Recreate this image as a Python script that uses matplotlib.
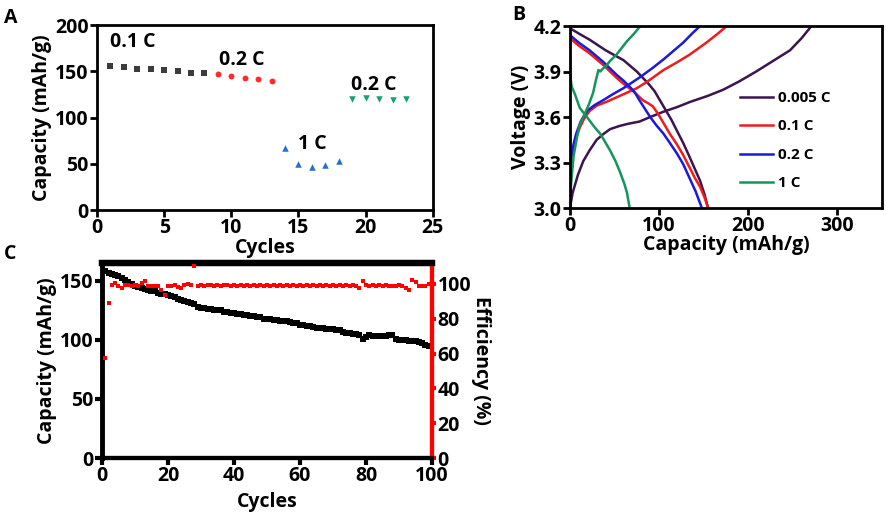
import matplotlib
matplotlib.use("Agg")
import matplotlib.pyplot as plt
from matplotlib.ticker import FormatStrFormatter

plt.rcParams['font.family'] = ['Open Sans', 'DejaVu Sans']
plt.rcParams['font.weight'] = 'bold'

# ---------------- Panel A data ----------------
a_cyc_01 = [1, 2, 3, 4, 5, 6, 7, 8]
a_cap_01 = [156, 155, 153, 152, 151, 150, 148, 148]
a_cyc_02 = [9, 10, 11, 12, 13]
a_cap_02 = [147, 145, 143, 142, 140]
a_cyc_1 = [14, 15, 16, 17, 18]
a_cap_1 = [67, 50, 46, 49, 53]
a_cyc_02b = [19, 20, 21, 22, 23]
a_cap_02b = [120, 121, 119.5, 119, 119.5]

# ---------------- Panel B data ----------------
b_0005_chg_x = [0, 3, 9, 15, 22, 30, 38, 45, 55, 65, 78, 90, 105, 120, 135, 155, 172, 190, 209, 228, 247, 260, 271]
b_0005_chg_v = [3.0, 3.1, 3.22, 3.31, 3.38, 3.45, 3.49, 3.52, 3.54, 3.555, 3.57, 3.60, 3.635, 3.665, 3.70, 3.74, 3.78, 3.835, 3.90, 3.97, 4.04, 4.12, 4.2]
b_0005_dis_x = [0, 10, 22, 40, 60, 75, 88, 95, 99, 104, 108, 114, 120, 127, 134, 140, 146, 151, 155]
b_0005_dis_v = [4.185, 4.15, 4.11, 4.04, 3.975, 3.9, 3.82, 3.77, 3.73, 3.68, 3.64, 3.58, 3.51, 3.43, 3.34, 3.26, 3.18, 3.09, 3.0]

b_01_chg_x = [0, 2, 6, 11, 16, 22, 30, 41, 60, 75, 86, 105, 120, 134, 153, 166, 176]
b_01_chg_v = [3.2, 3.34, 3.45, 3.53, 3.59, 3.64, 3.675, 3.70, 3.75, 3.79, 3.83, 3.91, 3.96, 4.01, 4.09, 4.15, 4.2]
b_01_dis_x = [0, 10, 22, 38, 52, 62, 71, 82, 88, 93, 99, 105, 112, 120, 127, 134, 140, 146, 151, 155]
b_01_dis_v = [4.12, 4.07, 4.02, 3.94, 3.86, 3.81, 3.77, 3.71, 3.69, 3.67, 3.62, 3.56, 3.49, 3.42, 3.35, 3.27, 3.20, 3.14, 3.07, 3.0]

b_02_chg_x = [0, 1, 4, 7, 12, 19, 28, 37, 48, 60, 78, 92, 105, 117, 127, 137, 146]
b_02_chg_v = [3.2, 3.31, 3.42, 3.49, 3.57, 3.64, 3.68, 3.71, 3.75, 3.79, 3.86, 3.92, 3.98, 4.04, 4.09, 4.15, 4.2]
b_02_dis_x = [0, 10, 22, 38, 52, 60, 67, 73, 78, 84, 90, 97, 105, 112, 120, 127, 134, 141, 148]
b_02_dis_v = [4.14, 4.09, 4.04, 3.96, 3.88, 3.84, 3.80, 3.76, 3.71, 3.655, 3.60, 3.545, 3.49, 3.43, 3.36, 3.29, 3.20, 3.11, 3.0]

b_1_chg_x = [0, 1, 4, 8, 11, 15, 21, 26, 29, 32, 34, 37, 41, 45, 52, 64, 72, 79]
b_1_chg_v = [3.0, 3.14, 3.34, 3.47, 3.55, 3.60, 3.68, 3.76, 3.84, 3.91, 3.90, 3.92, 3.94, 3.97, 4.01, 4.10, 4.15, 4.2]
b_1_dis_x = [0, 0, 0.5, 2, 5.6, 11, 19, 28, 34, 40, 45, 51, 56, 61, 64, 67]
b_1_dis_v = [4.17, 3.98, 3.86, 3.80, 3.75, 3.66, 3.60, 3.53, 3.49, 3.43, 3.38, 3.31, 3.24, 3.16, 3.10, 3.0]

b_labels = ['0.005 C', '0.1 C', '0.2 C', '1 C']

# ---------------- Panel C data ----------------
c_cycles = list(range(1, 101))
c_capacity = [158, 157, 156, 155, 154, 152, 151, 149, 147, 146,
              145, 144, 143, 142, 141, 141, 140, 139, 139, 138,
              137, 136, 135, 134, 133, 132, 131, 130, 128, 127,
              127, 126, 126, 125, 125, 125, 124, 124, 123, 123,
              122, 122, 121, 121, 120, 120, 119, 119, 118, 118,
              118, 117, 117, 116, 116, 116, 115, 114, 114, 113,
              113, 112, 112, 111, 110, 110, 110, 109, 109, 109,
              108, 108, 107, 106, 106, 105, 105, 104, 101, 102,
              104, 103, 103, 103, 103, 103, 104, 104, 101, 100,
              100, 100, 99, 99, 99, 98, 97, 96, 95, 95]
c_efficiency = [57.4, 89.3, 99.2, 100.5, 98.6, 97.7, 99.2, 99.5, 98.6, 99.5,
                98.6, 100.5, 101.5, 99.0, 98.6, 98.6, 98.6, 96.7, 93.4, 99.0,
                98.6, 99.5, 98.0, 97.7, 99.5, 100.0, 99.5, 110.2, 99.0, 99.3,
                99.0, 99.5, 99.2, 99.0, 99.4, 99.0, 99.2, 99.5, 99.0, 99.2,
                99.0, 99.3, 99.0, 99.2, 99.0, 99.4, 99.0, 99.2, 98.8, 99.2,
                99.0, 99.4, 99.0, 99.2, 99.0, 99.3, 99.0, 99.2, 99.0, 99.4,
                99.0, 99.2, 98.8, 99.2, 99.0, 99.3, 99.0, 99.2, 99.0, 99.4,
                99.0, 99.2, 99.0, 99.3, 99.0, 99.2, 99.0, 97.7, 101.5, 99.2,
                99.0, 99.2, 99.0, 99.3, 99.0, 99.2, 98.8, 99.0, 98.8, 99.2,
                98.6, 97.5, 96.7, 102.5, 101.0, 98.6, 98.6, 98.6, 99.9, 100.5]

LBL = 14
TCK = 14

fig = plt.figure(figsize=(8.86, 5.13), dpi=100)

def style(ax, lw=2):
    for s in ax.spines.values():
        s.set_linewidth(lw)
    ax.tick_params(direction='out', length=5, width=lw, labelsize=TCK, pad=1)
    for t in ax.get_xticklabels() + ax.get_yticklabels():
        t.set_fontweight('bold')

# ---------------- Panel A ----------------
axA = fig.add_axes([0.1095, 0.5906, 0.379, 0.3606])
axA.scatter(a_cyc_01, a_cap_01, marker='s', s=16, color='#3c3c3c', lw=0)
axA.scatter(a_cyc_02, a_cap_02, marker='o', s=18, color='#ff2a2a', lw=0)
axA.scatter(a_cyc_1, a_cap_1, marker='^', s=22, color='#1f6fd6', lw=0)
axA.scatter(a_cyc_02b, a_cap_02b, marker='v', s=22, color='#17a06c', lw=0)
axA.set_xlim(0, 25)
axA.set_ylim(0, 200)
axA.set_xticks([0, 5, 10, 15, 20, 25])
axA.set_yticks([0, 50, 100, 150, 200])
axA.set_xlabel('Cycles', fontsize=LBL, fontweight='bold', labelpad=0)
axA.set_ylabel('Capacity (mAh/g)', fontsize=LBL, fontweight='bold', labelpad=2)
axA.text(1.0, 182, '0.1 C', fontsize=TCK, fontweight='bold', va='center')
axA.text(9.1, 162, '0.2 C', fontsize=TCK, fontweight='bold', va='center')
axA.text(15.0, 71, '1 C', fontsize=TCK, fontweight='bold', va='center')
axA.text(18.9, 135, '0.2 C', fontsize=TCK, fontweight='bold', va='center')
style(axA)

# ---------------- Panel B ----------------
axB = fig.add_axes([0.6433, 0.5945, 0.352, 0.3548])
cols = ['#3b1450', '#ee1c1c', '#1a1ad8', '#14955c']
xs = [(b_0005_chg_x, b_0005_chg_v, b_0005_dis_x, b_0005_dis_v),
      (b_01_chg_x, b_01_chg_v, b_01_dis_x, b_01_dis_v),
      (b_02_chg_x, b_02_chg_v, b_02_dis_x, b_02_dis_v),
      (b_1_chg_x, b_1_chg_v, b_1_dis_x, b_1_dis_v)]
for (cx, cv, dx, dv), c, lab in zip(xs, cols, b_labels):
    axB.plot(cx, cv, color=c, lw=1.8, label=lab, solid_joinstyle='round')
    axB.plot(dx, dv, color=c, lw=1.8, solid_joinstyle='round')
axB.set_xlim(0, 350)
axB.set_ylim(3.0, 4.2)
axB.set_xticks([0, 100, 200, 300])
axB.set_yticks([3.0, 3.3, 3.6, 3.9, 4.2])
axB.yaxis.set_major_formatter(FormatStrFormatter('%.1f'))
axB.set_xlabel('Capacity (mAh/g)', fontsize=LBL, fontweight='bold', labelpad=-1)
axB.set_ylabel('Voltage (V)', fontsize=LBL, fontweight='bold', labelpad=2)
leg = axB.legend(loc='center left', bbox_to_anchor=(0.5, 0.37), frameon=False,
                 prop={'size': 11, 'weight': 'bold'}, handlelength=2.2,
                 labelspacing=0.95, handletextpad=0.3)
style(axB)

# ---------------- Panel C ----------------
axC = fig.add_axes([0.1151, 0.1072, 0.3725, 0.380])
axC.scatter(c_cycles, c_capacity, marker='s', s=14, color='black', lw=0, zorder=3)
axC.set_xlim(0, 100)
axC.set_ylim(0, 165)
axC.set_xticks([0, 20, 40, 60, 80, 100])
axC.set_yticks([0, 50, 100, 150])
axC.set_xlabel('Cycles', fontsize=LBL, fontweight='bold', labelpad=4)
axC.set_ylabel('Capacity (mAh/g)', fontsize=LBL, fontweight='bold', labelpad=2)
style(axC, lw=3)
axC.spines['top'].set_linewidth(4.5)
axC.spines['left'].set_linewidth(3.5)

axC2 = axC.twinx()
axC2.scatter(c_cycles, c_efficiency, marker='s', s=12, color='#ff0000', lw=0, zorder=3)
axC2.set_ylim(0, 112)
axC2.set_yticks([0, 20, 40, 60, 80, 100])
axC2.set_ylabel('Efficiency (%)', fontsize=LBL, fontweight='bold', rotation=270, labelpad=14)
style(axC2, lw=3)
axC2.spines['top'].set_linewidth(4.5)
axC2.spines['right'].set_color('#ff0000')
axC2.spines['left'].set_visible(False)
axC2.tick_params(axis='y', colors='#ff0000', labelcolor='black', length=3, pad=1)

# panel letters
fig.text(0.004, 0.985, 'A', fontsize=14, fontweight='bold', va='top')
fig.text(0.578, 0.99, 'B', fontsize=14, fontweight='bold', va='top')
fig.text(0.004, 0.525, 'C', fontsize=14, fontweight='bold', va='top')

fig.savefig('out.png', dpi=100)
